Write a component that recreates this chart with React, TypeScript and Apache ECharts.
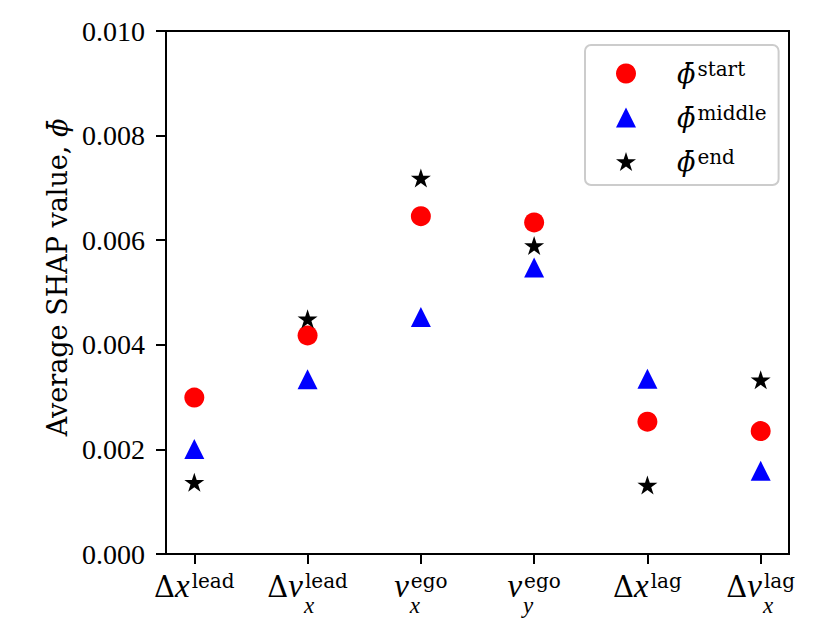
import React, { useEffect, useRef } from 'react';
import * as echarts from 'echarts';

// ---- data ----
const categories = ['Δx^lead', 'Δv_x^lead', 'v_x^ego', 'v_y^ego', 'Δx^lag', 'Δv_x^lag'];
const categoryIndex = [0, 1, 2, 3, 4, 5];
const startValues = [0.00299, 0.00418, 0.00646, 0.00634, 0.00253, 0.00235];
const middleValues = [0.00201, 0.00334, 0.00453, 0.00548, 0.00335, 0.00159];
const endValues = [0.00137, 0.0045, 0.00719, 0.0059, 0.00132, 0.00333];
const seriesNames = ['start', 'middle', 'end'];

// tick label pieces: base (text, italic), superscript, subscript
const labelBases: [string, boolean][][] = [
  [['Δ', false], ['x', true]],
  [['Δ', false], ['v', true]],
  [['v', true]],
  [['v', true]],
  [['Δ', false], ['x', true]],
  [['Δ', false], ['v', true]],
];
const labelSups = ['lead', 'lead', 'ego', 'ego', 'lag', 'lag'];
const labelSubs = ['', 'x', 'x', 'y', '', 'x'];

const STAR =
  'path://M50 0 L61.23 34.55 L97.55 34.55 L68.17 55.9 L79.39 90.45 L50 69.1 L20.61 90.45 L31.83 55.9 L2.45 34.55 L38.77 34.55 Z';

const LETTER_FAMILY = '"DejaVu Serif"';
const ITALIC_FAMILY = '"Liberation Serif"';
const PHI_FAMILY = '"DejaVu Serif"';
const NUM_FONT = '"Liberation Serif", serif';
const BASE_SIZE = 29;
const ITALIC_SIZE = 33;
const NAME_SIZE = 27;
const PHI_SIZE = 27;
const SMALL_SIZE = 20;
const SUB_SIZE = 23;

const fontFor = (italic: boolean) =>
  italic ? `italic ${ITALIC_SIZE}px ${ITALIC_FAMILY}` : `${BASE_SIZE}px ${LETTER_FAMILY}`;

export default function App() {
  const ref = useRef<HTMLDivElement>(null);

  useEffect(() => {
    if (!ref.current) return;
    const chart = echarts.init(ref.current, null, { renderer: 'svg' });

    const axisLine = { show: true, onZero: false, lineStyle: { color: '#000', width: 2 } };
    const axisTickStyle = { color: '#000', width: 2 };

    const option: any = {
      animation: false,
      backgroundColor: '#ffffff',
      grid: {
        left: 166,
        right: 41,
        top: 31,
        bottom: 69,
        show: true,
        borderColor: '#000',
        borderWidth: 2,
        backgroundColor: 'transparent',
      },
      xAxis: {
        type: 'value',
        min: -0.25,
        max: 5.25,
        axisLine,
        axisTick: { show: true, customValues: categoryIndex, length: 10, lineStyle: axisTickStyle },
        axisLabel: { show: false },
        splitLine: { show: false },
      },
      yAxis: {
        type: 'value',
        min: 0,
        max: 0.01,
        interval: 0.002,
        axisLine,
        axisTick: { show: true, length: 10, lineStyle: axisTickStyle },
        axisLabel: {
          margin: 21,
          color: '#000',
          fontFamily: NUM_FONT,
          fontSize: 28,
          formatter: (v: number) => v.toFixed(3),
        },
        splitLine: { show: false },
        name: 'Average SHAP value, {phi|ϕ̄}',
        nameLocation: 'middle',
        nameRotate: 90,
        nameGap: 93,
        nameTextStyle: {
          color: '#000',
          fontFamily: LETTER_FAMILY,
          fontSize: NAME_SIZE,
          padding: [0, 0, 0, 30],
          rich: {
            phi: { fontFamily: PHI_FAMILY, fontStyle: 'italic', fontSize: PHI_SIZE, color: '#000' },
          },
        },
      },
      legend: {
        left: 585,
        top: 45,
        orient: 'vertical',
        itemWidth: 20,
        itemHeight: 20,
        itemGap: 16,
        padding: [14, 12, 10, 31],
        backgroundColor: 'rgba(255,255,255,0.8)',
        borderColor: '#cccccc',
        borderWidth: 2,
        borderRadius: 6,
        data: seriesNames,
        formatter: (name: string) => `{phi|ϕ̄}{sup|${name}}`,
        textStyle: {
          rich: {
            phi: {
              fontFamily: PHI_FAMILY,
              fontStyle: 'italic',
              fontSize: PHI_SIZE,
              lineHeight: 29,
              color: '#000',
              padding: [0, 0, 0, 36],
            },
            sup: {
              fontFamily: LETTER_FAMILY,
              fontSize: SMALL_SIZE,
              lineHeight: 16,
              verticalAlign: 'top',
              color: '#000',
              padding: [0, 0, 0, 2],
            },
          },
        },
      },
      series: [
        {
          name: seriesNames[0],
          type: 'scatter',
          symbol: 'circle',
          symbolSize: 20,
          itemStyle: { color: '#ff0000', opacity: 1 },
          data: categoryIndex.map((x, i) => [x, startValues[i]]),
          silent: true,
        },
        {
          name: seriesNames[1],
          type: 'scatter',
          symbol: 'triangle',
          symbolSize: 20,
          itemStyle: { color: '#0000ff', opacity: 1 },
          data: categoryIndex.map((x, i) => [x, middleValues[i]]),
          silent: true,
        },
        {
          name: seriesNames[2],
          type: 'scatter',
          symbol: STAR,
          symbolSize: [20, 19],
          itemStyle: { color: '#000000', opacity: 1 },
          data: categoryIndex.map((x, i) => [x, endValues[i]]),
          silent: true,
        },
      ],
    };

    chart.setOption(option);

    // x tick labels with stacked super/subscripts, placed via the axis scale
    const canvas = document.createElement('canvas');
    const ctx = canvas.getContext('2d')!;
    const measure = (t: string, font: string) => {
      ctx.font = font;
      return ctx.measureText(t).width;
    };
    const supFont = `${SMALL_SIZE}px ${LETTER_FAMILY}`;
    const subFont = `italic ${SUB_SIZE}px ${ITALIC_FAMILY}`;
    const axisY = chart.convertToPixel({ yAxisIndex: 0 }, 0) as number;
    const elements: any[] = [];
    categories.forEach((_, i) => {
      const cx = chart.convertToPixel({ xAxisIndex: 0 }, categoryIndex[i]) as number;
      const parts = labelBases[i];
      const widths = parts.map(([t, it]) => measure(t, fontFor(it)));
      const baseW = widths.reduce((a, b) => a + b, 0);
      const supW = measure(labelSups[i], supFont);
      const subW = labelSubs[i] ? measure(labelSubs[i], subFont) : 0;
      const total = baseW + Math.max(supW + 2, subW + 1);
      let cursor = cx - total / 2;
      const left = cursor;
      parts.forEach(([t, it], k) => {
        elements.push({
          type: 'text',
          x: cursor,
          y: axisY + (it ? 32 : 33),
          silent: true,
          style: {
            text: t,
            fill: '#000',
            font: fontFor(it),
            align: 'left',
            verticalAlign: 'middle',
          },
        });
        cursor += widths[k];
      });
      elements.push({
        type: 'text',
        x: left + baseW + 2,
        y: axisY + 27,
        silent: true,
        style: {
          text: labelSups[i],
          fill: '#000',
          font: supFont,
          align: 'left',
          verticalAlign: 'middle',
        },
      });
      if (labelSubs[i]) {
        elements.push({
          type: 'text',
          x: left + baseW + 1,
          y: axisY + 51,
          silent: true,
          style: {
            text: labelSubs[i],
            fill: '#000',
            font: subFont,
            align: 'left',
            verticalAlign: 'middle',
          },
        });
      }
    });
    chart.setOption({ graphic: { elements } });

    return () => chart.dispose();
  }, []);

  return (
    <div
      ref={ref}
      style={{ position: 'fixed', left: 0, top: 0, width: 830, height: 623, background: '#fff' }}
    />
  );
}
